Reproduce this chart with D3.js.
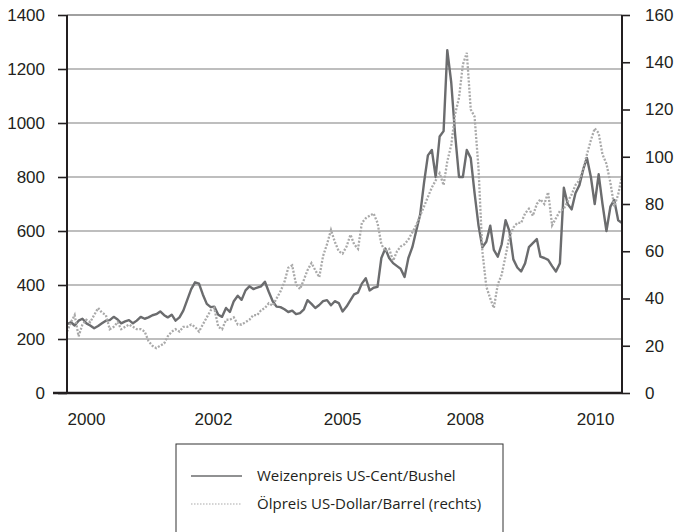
<!DOCTYPE html>
<html lang="de">
<head>
<meta charset="UTF-8">
<title>Weizenpreis und Ölpreis</title>
<script src="https://d3js.org/d3.v7.min.js"></script>
<style>
    body { margin: 0; background: #fff; }
    svg { display: block; font-family: "Open Sans", sans-serif; }
    .tick text { fill: #231f20; }
</style>
</head>
<body>
<div id="chart"></div>
<script>
// monthly observations, Jan 2000 .. Dec 2011
const months = d3.timeMonth.range(new Date(2000, 0, 1), new Date(2012, 0, 1));

// Weizenpreis, US-Cent/Bushel (left axis)
const wheat = [
    255, 262, 250, 268, 275, 258, 250, 240, 248, 258, 268, 270,   // 2000
    282, 272, 258, 265, 270, 258, 268, 282, 275, 280, 288, 292,   // 2001
    302, 288, 280, 290, 268, 280, 305, 345, 385, 410, 405, 365,   // 2002
    330, 318, 320, 290, 282, 315, 300, 340, 360, 345, 380, 395,   // 2003
    385, 390, 395, 412, 375, 340, 320, 318, 310, 300, 305, 292,   // 2004
    296, 310, 344, 330, 315, 326, 340, 344, 325, 340, 333, 302,   // 2005
    320, 344, 365, 372, 405, 425, 380, 390, 393, 500, 535, 500,   // 2006
    481, 470, 460, 430, 500, 540, 600, 660, 780, 880, 900, 800,   // 2007
    950, 970, 1270, 1150, 960, 800, 800, 900, 870, 740, 620, 540, // 2008
    560, 620, 530, 505, 550, 640, 600, 495, 465, 450, 480, 540,   // 2009
    555, 570, 505, 500, 493, 470, 450, 480, 760, 700, 680, 740,   // 2010
    770, 830, 870, 800, 700, 810, 700, 600, 690, 715, 640, 630    // 2011
];

// Ölpreis, US-Dollar/Barrel (right axis)
const oil = [
    26, 30, 33, 24, 29, 31, 30, 33, 36, 34, 33, 27,          // 2000
    28, 30, 27, 28, 29, 28, 27, 27, 26, 22, 20, 19,          // 2001
    20, 21, 24, 26, 27, 26, 28, 28, 29, 28, 26, 29,          // 2002
    32, 35, 36, 28, 27, 31, 31, 32, 29, 29, 30, 31,          // 2003
    33, 33, 35, 36, 38, 37, 40, 43, 47, 53, 54, 46,          // 2004
    44, 48, 52, 55, 52, 49, 58, 63, 69, 64, 60, 59,          // 2005
    62, 67, 63, 61, 72, 74, 75, 76, 72, 63, 60, 61,          // 2006
    56, 60, 62, 63, 65, 68, 71, 75, 79, 83, 87, 90,          // 2007
    93, 88, 98, 105, 118, 125, 139, 144, 120, 117, 95, 60,   // 2008
    45, 40, 36, 46, 50, 58, 66, 70, 72, 72, 76, 78,          // 2009
    75, 80, 82, 80, 85, 71, 74, 77, 78, 81, 84, 88,          // 2010
    90, 95, 101, 107, 112, 110, 101, 97, 89, 79, 84, 92      // 2011
];

const leftTicks = [0, 200, 400, 600, 800, 1000, 1200, 1400];
const rightTicks = [0, 20, 40, 60, 80, 100, 120, 140, 160];
// the labels are not evenly spaced in time in the original, only on the page
const xTickDates = [new Date(2000, 4, 29), new Date(2003, 1, 19), new Date(2005, 10, 27), new Date(2008, 6, 17), new Date(2011, 4, 4)];
const xTickLabels = ["2000", "2002", "2005", "2008", "2010"];

const seriesNames = ["Weizenpreis US-Cent/Bushel", "Ölpreis US-Dollar/Barrel (rechts)"];

const width = 676;
const height = 532;
const margin = { left: 67, right: 54, top: 15, bottom: 139 };
const plotRight = width - margin.right;
const plotBottom = height - margin.bottom;

const ink = "#231f20";
const wheatColor = "#6b6c6e";
const oilColor = "#a9a9a9";

const svg = d3.select("#chart")
    .append("svg")
    .attr("width", width)
    .attr("height", height);

const x = d3.scaleTime()
    .domain([months[0], months[months.length - 1]])
    .range([margin.left, plotRight]);

const yLeft = d3.scaleLinear().domain([0, 1400]).range([plotBottom, margin.top]);
const yRight = d3.scaleLinear().domain([0, 160]).range([plotBottom, margin.top]);

// gridlines from the left axis
svg.append("g")
    .selectAll("line")
    .data(leftTicks.filter(d => d > 0))
    .join("line")
    .attr("x1", margin.left)
    .attr("x2", plotRight)
    .attr("y1", d => yLeft(d))
    .attr("y2", d => yLeft(d))
    .attr("stroke", d => d === 1400 ? "#808080" : "#a8a8a8")
    .attr("stroke-width", 1.3);

// left axis
const leftAxis = svg.append("g")
    .attr("transform", `translate(${margin.left},0)`)
    .call(d3.axisLeft(yLeft).tickValues(leftTicks).tickSize(9).tickPadding(13).tickFormat(d3.format("d")));
leftAxis.select(".domain").remove();
leftAxis.selectAll(".tick line").attr("stroke", ink).attr("stroke-width", 1.6);
leftAxis.selectAll(".tick text").style("font-size", "17px");

// right axis
const rightAxis = svg.append("g")
    .attr("transform", `translate(${plotRight},0)`)
    .call(d3.axisRight(yRight).tickValues(rightTicks).tickSize(8).tickPadding(15).tickFormat(d3.format("d")));
rightAxis.select(".domain").remove();
rightAxis.selectAll(".tick line").attr("stroke", ink).attr("stroke-width", 1.6);
rightAxis.selectAll(".tick text").style("font-size", "17px");

// bottom labels
const bottomAxis = svg.append("g")
    .attr("transform", `translate(0,${plotBottom})`)
    .call(d3.axisBottom(x).tickValues(xTickDates).tickSize(0).tickPadding(20)
        .tickFormat((d, i) => xTickLabels[i]));
bottomAxis.select(".domain").remove();
bottomAxis.selectAll(".tick text").style("font-size", "17px");

// series
const wheatLine = d3.line()
    .x((d, i) => x(months[i]))
    .y(d => yLeft(d));

const oilLine = d3.line()
    .x((d, i) => x(months[i]))
    .y(d => yRight(d));

svg.append("path")
    .datum(wheat)
    .attr("d", wheatLine)
    .attr("fill", "none")
    .attr("stroke", wheatColor)
    .attr("stroke-width", 2.4)
    .attr("stroke-linejoin", "round");

svg.append("path")
    .datum(oil)
    .attr("d", oilLine)
    .attr("fill", "none")
    .attr("stroke", oilColor)
    .attr("stroke-width", 2.3)
    .attr("stroke-dasharray", "2,1.6");

// axis lines on top
svg.append("line")
    .attr("x1", margin.left).attr("x2", margin.left)
    .attr("y1", margin.top).attr("y2", plotBottom)
    .attr("stroke", ink).attr("stroke-width", 2);
svg.append("line")
    .attr("x1", plotRight).attr("x2", plotRight)
    .attr("y1", margin.top).attr("y2", plotBottom)
    .attr("stroke", ink).attr("stroke-width", 2);
svg.append("line")
    .attr("x1", 53).attr("x2", plotRight)
    .attr("y1", plotBottom).attr("y2", plotBottom)
    .attr("stroke", ink).attr("stroke-width", 2.6);

// legend
const legend = svg.append("g").attr("transform", "translate(176,444)");
legend.append("rect")
    .attr("width", 327)
    .attr("height", 100)
    .attr("fill", "none")
    .attr("stroke", "#333")
    .attr("stroke-width", 1);

const legendRows = legend.selectAll("g.row")
    .data(seriesNames)
    .join("g")
    .attr("class", "row")
    .attr("transform", (d, i) => `translate(0,${32 + i * 28})`);

legendRows.append("line")
    .attr("x1", 15)
    .attr("x2", 66)
    .attr("stroke", (d, i) => i === 0 ? wheatColor : oilColor)
    .attr("stroke-width", (d, i) => i === 0 ? 1.6 : 1.2)
    .attr("stroke-dasharray", (d, i) => i === 0 ? null : "1.5,1.5");

legendRows.append("text")
    .attr("x", 81)
    .attr("dy", "0.35em")
    .attr("fill", ink)
    .style("font-size", "15px")
    .text(d => d);
</script>
</body>
</html>
